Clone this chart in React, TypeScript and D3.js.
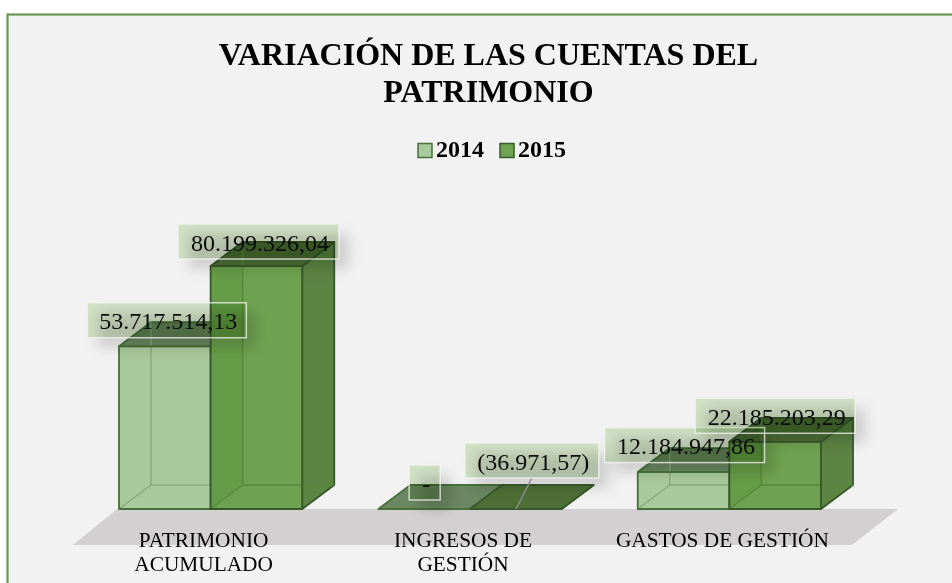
import React from "react";
import * as d3 from "d3";

const categories = ["PATRIMONIO ACUMULADO", "INGRESOS DE GESTIÓN", "GASTOS DE GESTIÓN"];
const categoryLines = [["PATRIMONIO", "ACUMULADO"], ["INGRESOS DE", "GESTIÓN"], ["GASTOS DE GESTIÓN"]];
const seriesNames = ["2014", "2015"];
const values2014 = [53717514.13, 0, 12184947.86];
const values2015 = [80199326.04, -36971.57, 22185203.29];
const labels2014 = ["53.717.514,13", "-", "12.184.947,86"];
const labels2015 = ["80.199.326,04", "(36.971,57)", "22.185.203,29"];

const W = 952, H = 583;
const DX = 32, DY = -24;
const BASE = 509;
const FONT = "'Liberation Serif', 'Times New Roman', serif";

const x0 = d3.scaleBand<string>().domain(categories).range([119, 821]).paddingInner(76 / 259);
const x1 = d3.scaleBand<string>().domain(seriesNames).range([0, x0.bandwidth()]);
const y = d3.scaleLinear().domain([0, 80199326.04]).range([BASE, 266]);

const styles: Record<string, any> = {
  "2014": { front: "#a8c99b", side: "#7f9f72", top: "#6b8762", back: "#a8c99b", wall: "#a8c99b", edge: "#48713a", inner: "#86ab76" },
  "2015": { front: "#6fa350", side: "#5c8443", top: "#4d6f36", back: "#6fa350", wall: "#5c943c", edge: "#37592a", inner: "#56893b" },
};

// label box sizes and hand-placed nudges, [dx from front-face centre, dy from bar top]
const boxW: Record<string, number[]> = { "2014": [159, 31, 160], "2015": [161, 134, 160] };
const boxNudge: Record<string, number[][]> = {
  "2014": [[2, -26], [0.5, -26.5], [1, -27]],
  "2015": [[2, -24.5], [16, -48.5], [0, -26]],
};
const BOX_H = 35;

const poly = (pts: number[][]) => pts.map((p) => p.join(",")).join(" ");

function Bar({ series, cat, value }: { series: string; cat: string; value: number }) {
  const s = styles[series];
  const l = x0(cat)! + x1(series)!;
  const r = l + x1.bandwidth();
  const t = Math.min(y(value), BASE);
  const b = BASE;
  const edge = { stroke: s.edge, strokeWidth: 1.8, strokeLinejoin: "round" as const };
  const inner = { stroke: s.inner, strokeWidth: 1.4, fill: "none" };
  return (
    <g>
      <polygon points={poly([[l, t], [l + DX, t + DY], [l + DX, b + DY], [l, b]])} fill={s.wall} />
      <polygon points={poly([[l + DX, t + DY], [r + DX, t + DY], [r + DX, b + DY], [l + DX, b + DY]])} fill={s.back} />
      <polygon points={poly([[l, b], [r, b], [r + DX, b + DY], [l + DX, b + DY]])} fill={s.front} />
      <polygon points={poly([[r, t], [r + DX, t + DY], [r + DX, b + DY], [r, b]])} fill={s.side} {...edge} />
      <polygon points={poly([[l, t], [r, t], [r + DX, t + DY], [l + DX, t + DY]])} fill={s.top} {...edge} />
      {b - t > 1 && <rect x={l} y={t} width={r - l} height={b - t} fill={s.front} fillOpacity={0.55} />}
      {b - t > 1 && <polyline points={poly([[l + DX, t + DY], [l + DX, b + DY], [r + DX, b + DY]])} {...inner} />}
      {b - t > 1 && <line x1={l} y1={b} x2={l + DX} y2={b + DY} {...inner} />}
      {b - t > 1 && <rect x={l} y={t} width={r - l} height={b - t} fill="none" {...edge} />}
    </g>
  );
}

export default function App() {
  const rows = seriesNames.flatMap((name, si) =>
    categories.map((cat, ci) => ({
      name, cat, ci, si,
      value: (si === 0 ? values2014 : values2015)[ci],
      label: (si === 0 ? labels2014 : labels2015)[ci],
    }))
  );
  const boxes = rows.map((d) => {
    const cx = x0(d.cat)! + x1(d.name)! + x1.bandwidth() / 2 + boxNudge[d.name][d.ci][0];
    const cy = Math.min(y(d.value), BASE) + boxNudge[d.name][d.ci][1];
    return { ...d, cx, cy, w: boxW[d.name][d.ci] };
  });
  const leader = boxes.find((b) => b.name === "2015" && b.ci === 1)!;

  return (
    <svg width={W} height={H} viewBox={`0 0 ${W} ${H}`}
      style={{ position: "absolute", left: 0, top: 0, background: "#fff", fontFamily: FONT }}>
      <defs>
        <filter id="blur" x="-30%" y="-100%" width="160%" height="300%">
          <feGaussianBlur stdDeviation={6.5} />
        </filter>
      </defs>
      <rect x={7.5} y={14.5} width={W + 20} height={H + 20} fill="#f2f2f2" stroke="#6a9552" strokeWidth={2.2} />

      <text x={488.5} y={65} textAnchor="middle" fontSize={32} fontWeight="bold">VARIACIÓN DE LAS CUENTAS DEL</text>
      <text x={488.5} y={102} textAnchor="middle" fontSize={32} fontWeight="bold">PATRIMONIO</text>

      {seriesNames.map((n, i) => {
        const sx = 418 + i * 82;
        return (
          <g key={n}>
            <rect x={sx} y={143.5} width={14} height={14} fill={styles[n].front} stroke={styles[n].edge} strokeWidth={1.5} />
            <text x={sx + 18} y={157} fontSize={24} fontWeight="bold">{n}</text>
          </g>
        );
      })}

      <polygon points={poly([[117, BASE], [898, BASE], [852, 545], [73, 545]])} fill="#d2d0d1" />

      {categories.map((cat) =>
        seriesNames.map((n, si) => (
          <Bar key={cat + n} cat={cat} series={n} value={(si === 0 ? values2014 : values2015)[categories.indexOf(cat)]} />
        ))
      )}

      {boxes.map((b) => (
        <rect key={"s" + b.label} x={b.cx - b.w / 2 + 10} y={b.cy - BOX_H / 2 + 10} width={b.w} height={BOX_H}
          fill="#000" fillOpacity={0.15} filter="url(#blur)" />
      ))}
      <line x1={leader.cx} y1={leader.cy + BOX_H / 2} x2={516} y2={BASE} stroke="#8c8c8c" strokeWidth={1.5} />
      {boxes.map((b) => (
        <g key={b.label}>
          <rect x={b.cx - b.w / 2} y={b.cy - BOX_H / 2} width={b.w} height={BOX_H}
            fill="#dcedd0" style={{ mixBlendMode: "multiply" }} />
          <rect x={b.cx - b.w / 2} y={b.cy - BOX_H / 2} width={b.w} height={BOX_H}
            fill="none" stroke="#f4f7f1" strokeOpacity={0.75} strokeWidth={1.5} />
          <text x={b.cx + 1.5} y={b.cy + 9} textAnchor="middle" fontSize={24} fill="#0a0a0a">{b.label}</text>
        </g>
      ))}

      {categories.map((cat, i) => (
        <text key={cat} x={x0(cat)! + x0.bandwidth() / 2 - 7} y={547} textAnchor="middle" fontSize={21.33}>
          {categoryLines[i].map((ln, j) => (
            <tspan key={ln} x={x0(cat)! + x0.bandwidth() / 2 - 7} dy={j === 0 ? 0 : 24}>{ln}</tspan>
          ))}
        </text>
      ))}
    </svg>
  );
}
